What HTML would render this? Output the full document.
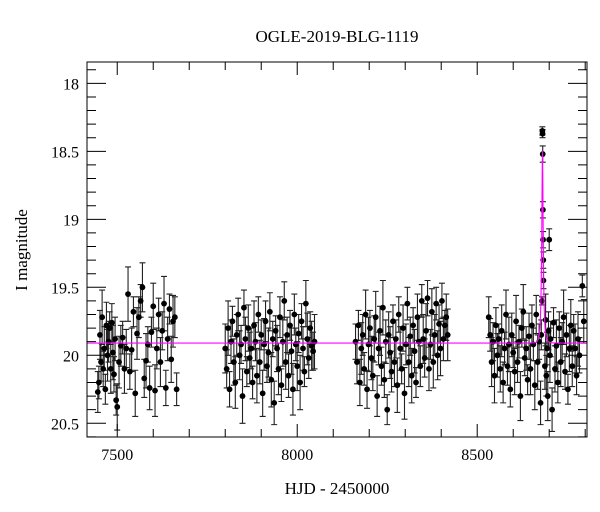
<!DOCTYPE html>
<html><head><meta charset="utf-8"><style>
html,body{margin:0;padding:0;background:#fff}
svg{display:block;font-family:"Liberation Serif",serif}
</style></head><body>
<svg id="chart" width="600" height="512" viewBox="0 0 600 512" xmlns="http://www.w3.org/2000/svg">
<text x="337" y="42" text-anchor="middle" font-size="17">OGLE-2019-BLG-1119</text>
<text x="337" y="494" text-anchor="middle" font-size="17">HJD - 2450000</text>
<text x="27" y="250" text-anchor="middle" font-size="17" transform="rotate(-90 27 250)">I magnitude</text>
<g id="data"></g>
<rect x="87" y="62" width="500" height="375" fill="none" stroke="#000" stroke-width="1"/>
<g id="axes"></g>
</svg>
<script>
const xTicks=[7500,8000,8500];
const yTicks=[18,18.5,19,19.5,20,20.5];
const tS1=[7446,7449,7452,7455,7458,7461,7464,7467,7470,7473,7476,7479,7482,7485,7488,7491,7494,7497,7500,7505,7510,7515,7520,7525,7530,7535,7540,7545,7550,7555,7560,7565,7570,7575,7580,7585,7590,7595,7600,7605,7610,7615,7620,7625,7630,7635,7640,7645,7650,7655,7660,7665];
const mS1=[20.27,20.2,19.85,20.05,19.72,20.1,19.95,20.25,19.78,20.0,19.9,19.8,20.1,19.76,19.98,20.14,19.88,20.33,20.38,20.05,19.93,19.87,20.1,19.95,19.55,20.12,19.96,19.68,20.28,19.84,19.72,19.6,19.5,20.17,20.04,19.92,20.24,19.83,19.64,20.26,19.95,19.7,20.05,19.82,19.62,20.24,19.88,19.66,20.03,19.75,19.72,20.25];
const tS2=[7800,7804,7808,7812,7816,7820,7824,7828,7832,7836,7840,7844,7848,7852,7856,7860,7864,7868,7872,7876,7880,7884,7888,7892,7896,7900,7904,7908,7912,7916,7920,7924,7928,7932,7936,7940,7944,7948,7952,7956,7960,7964,7968,7972,7976,7980,7984,7988,7992,7996,8000,8004,8008,8012,8016,8020,8024,8028,8032,8036,8040,8044,8048];
const mS2=[19.95,20.1,19.8,20.25,19.9,19.75,20.05,20.2,19.85,19.7,20.0,19.92,20.3,19.65,19.88,20.12,19.8,20.02,19.95,20.2,19.78,19.9,20.15,19.7,20.05,19.85,20.28,19.92,19.75,20.08,19.98,19.68,20.18,19.88,20.35,19.82,19.95,20.1,19.72,20.22,19.9,19.6,20.05,19.85,20.15,19.78,19.97,20.25,19.7,19.92,20.08,19.84,20.2,19.75,19.95,20.12,19.62,19.88,20.02,19.8,19.93,19.97,19.9];
const tS3=[8162,8166,8170,8174,8178,8182,8186,8190,8194,8198,8202,8206,8210,8214,8218,8222,8226,8230,8234,8238,8242,8246,8250,8254,8258,8262,8266,8270,8274,8278,8282,8286,8290,8294,8298,8302,8306,8310,8314,8318,8322,8326,8330,8334,8338,8342,8346,8350,8354,8358,8362,8366,8370,8374,8378,8382,8386,8390,8394,8398,8402,8406,8410,8414,8418];
const mS3=[19.9,20.05,19.78,20.2,19.95,19.85,20.1,19.7,20.25,19.92,19.8,20.02,20.15,19.88,19.72,20.3,19.95,19.82,20.08,19.65,20.18,19.9,20.4,19.85,19.98,20.12,19.75,20.05,19.88,20.22,19.7,19.95,20.1,19.8,20.28,19.92,19.62,20.05,19.86,20.15,19.78,19.97,20.2,19.72,19.9,20.08,19.6,19.88,20.02,19.82,19.58,20.1,19.92,19.68,20.05,19.85,19.62,20.0,19.77,19.95,19.6,19.88,19.78,19.72,19.85];
const tS4=[8532,8536,8540,8544,8548,8552,8556,8560,8564,8568,8572,8576,8580,8584,8588,8592,8596,8600,8604,8608,8612,8616,8620,8624,8628,8632,8636,8640,8644,8648,8652,8656,8660,8664,8668,8672,8676,8678,8688,8690,8692,8694,8696,8698,8702,8704,8708,8712,8716,8720,8724,8728,8732,8736,8740,8744,8748,8752,8756,8760,8764,8768,8772,8776,8780,8784,8796];
const mS4=[19.72,19.85,20.05,19.9,20.15,19.78,20.0,19.88,20.1,19.82,20.2,19.95,19.7,20.08,19.92,20.25,19.85,19.98,20.12,19.75,20.05,19.9,20.3,19.8,19.68,20.02,19.95,20.18,19.86,20.1,19.78,19.92,20.22,19.7,20.05,19.9,20.35,19.85,20.08,19.74,20.15,19.95,20.3,19.82,20.0,19.88,20.4,19.76,20.1,19.93,20.2,19.8,20.05,19.9,19.72,20.12,19.85,20.25,19.95,19.78,20.08,19.82,19.95,20.15,19.88,20.0,19.75];
const tPeak=[8680,8681,8681.5,8682,8682.5,8683,8683.5,8684,8700,8792];
const mPeak=[19.6,18.35,18.37,18.52,18.93,19.15,19.3,19.45,19.15,19.49];
const errCycle=[0.15,0.12,0.18,0.14,0.2,0.13,0.16,0.11,0.17,0.19];
const modelParams=[8681.3,19.91,0.28,4.5]; // t0, baseline, u0, tE
const X0=7416,X1=8805,Y0=17.843,Y1=20.601;
const L=87,R=587,T=62,B=437;
const sx=t=>L+(t-X0)/(X1-X0)*(R-L);
const sy=m=>T+(m-Y0)/(Y1-Y0)*(B-T);
const NS="http://www.w3.org/2000/svg";
function mk(tag,attrs,parent){const e=document.createElementNS(NS,tag);for(const k in attrs)e.setAttribute(k,attrs[k]);parent.appendChild(e);return e;}
const dg=document.getElementById('data'),ag=document.getElementById('axes');
const tAll=tS1.concat(tS2,tS3,tS4),mAll=mS1.concat(mS2,mS3,mS4);
let pts=[];
for(let i=0;i<tAll.length;i++)pts.push([tAll[i],mAll[i],errCycle[i%errCycle.length]]);
for(let i=0;i<tPeak.length;i++)pts.push([tPeak[i],mPeak[i],i<3?0.03:(i<8?0.06:0.08)]);
pts.forEach(p=>{
  const x=sx(p[0]),y1=sy(p[1]-p[2]),y2=sy(Math.min(p[1]+p[2],Y1));
  const eb=mk('path',{d:`M${x},${y1}V${y2}M${x-3},${y1}H${x+3}`+(p[1]+p[2]<Y1?`M${x-3},${y2}H${x+3}`:''),stroke:'#222','stroke-width':1.1,fill:'none'},dg);
  
  
});
pts.forEach(p=>{
  const c=mk('circle',{cx:sx(p[0]),cy:sy(p[1]),r:2.9,fill:'#000'},dg);
  
  
});
const [t0,base,u0,tE]=modelParams;
let d='';
for(let px=L;px<=R;px+=0.25){
  const t=X0+(px-L)/(R-L)*(X1-X0);
  const u=Math.sqrt(u0*u0+((t-t0)/tE)**2);
  const A=(u*u+2)/(u*Math.sqrt(u*u+4));
  const m=base-2.5*Math.log10(A);
  d+=(d?'L':'M')+px.toFixed(2)+','+sy(m).toFixed(2);
}
const mp=mk('path',{d:d,stroke:'#ff00ff','stroke-width':1.1,fill:'none'},dg);


for(let t=7500;t<=8800;t+=100){
  const major=xTicks.includes(t),len=major?13:8,x=sx(t);
  const tk=mk('path',{d:`M${x},${B}V${B-len}M${x},${T}V${T+len}`,stroke:'#000','stroke-width':1},ag);
  
  
}
xTicks.forEach(t=>{
  const tx=mk('text',{x:sx(t),y:460,'text-anchor':'middle','font-size':16},ag);
  tx.textContent=t;
  
  
});
for(let k=179;k<=206;k++){
  const m=k/10,y=sy(m),major=yTicks.some(v=>Math.abs(v-m)<1e-6),len=major?19:9;
  const tk=mk('path',{d:`M${L},${y}H${L+len}M${R},${y}H${R-len}`,stroke:'#000','stroke-width':1},ag);
  
  
}
yTicks.forEach(m=>{
  const tx=mk('text',{x:79,y:sy(m)+6,'text-anchor':'end','font-size':16},ag);
  tx.textContent=m;
  
  
});
</script>
</body></html>
